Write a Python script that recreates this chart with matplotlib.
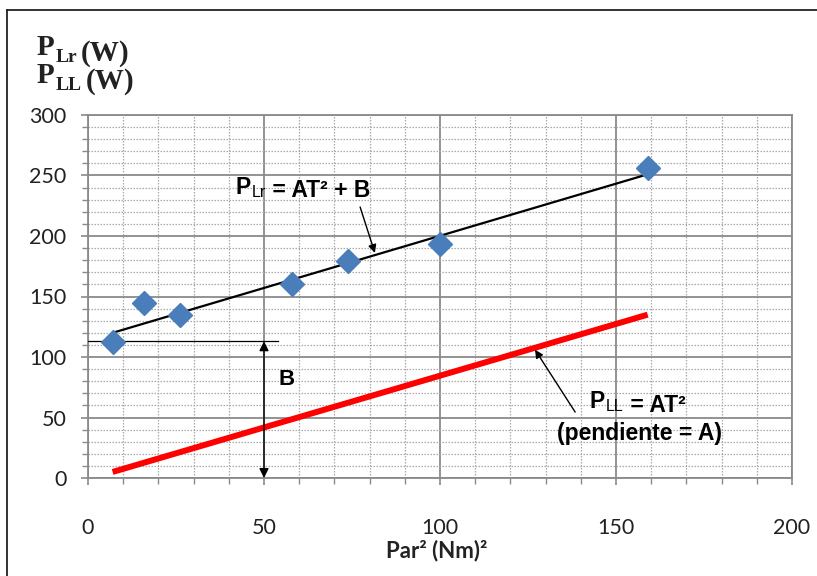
import matplotlib
matplotlib.use("Agg")
import matplotlib.pyplot as plt
from matplotlib.lines import Line2D
from matplotlib.ticker import MultipleLocator

# measured points: torque squared vs rotational losses
par2 = [7, 16, 26, 58, 74, 100, 159]
p_lr = [112, 145, 135, 160, 179, 193, 256]

# fitted line P_Lr = A*T^2 + B (end points)
fit_x = [7, 159]
fit_y = [120, 251]

# P_LL = A*T^2
pll_x = [7, 159]
pll_y = [5, 135]

b_value = 113
b_x = 50

x_ticks = [0, 50, 100, 150, 200]
y_ticks = [0, 50, 100, 150, 200, 250, 300]

grid_grey = "#8a8a8a"
tick_font = "Lato"
sans = "Liberation Sans"
serif = "Liberation Serif"

fig = plt.figure(figsize=(8.17, 5.76), dpi=100)
ax = fig.add_axes([88 / 817, 98 / 576, 704 / 817, 363 / 576])

ax.set_xlim(0, 200)
ax.set_ylim(0, 300)
ax.set_xticks(x_ticks)
ax.set_yticks(y_ticks)
ax.xaxis.set_minor_locator(MultipleLocator(10))
ax.yaxis.set_minor_locator(MultipleLocator(10))

ax.grid(which="major", color=grid_grey, lw=1.3)
ax.grid(which="minor", color="#a8a8a8", lw=0.9, ls=(0, (1.2, 1.2)))
ax.set_axisbelow(True)
for s in ax.spines.values():
    s.set_color(grid_grey)
    s.set_linewidth(1.3)

ax.tick_params(which="both", direction="out", color=grid_grey)
ax.tick_params(which="major", length=5, width=1.2)
ax.tick_params(which="minor", length=4, width=1.0)
ax.tick_params(axis="y", which="major", pad=10.5)
ax.tick_params(axis="x", which="major", pad=24)
for lab in ax.get_xticklabels() + ax.get_yticklabels():
    lab.set_fontfamily(tick_font)
    lab.set_fontsize(15.5)
    lab.set_color("#222222")

# data and lines
ax.plot(fit_x, fit_y, color="black", lw=1.6, zorder=3)
ax.plot(pll_x, pll_y, color="#ff0000", lw=4.3, solid_capstyle="butt", zorder=3)
ax.plot(par2, p_lr, ls="none", marker="D", ms=12.5, color="#4a7ebb",
        mec="#4a7ebb", zorder=4)

# B marker: horizontal guide and double arrow
ax.plot([0, 54], [b_value, b_value], color="black", lw=0.9, zorder=3)
ax.annotate("", xy=(b_x, 0), xytext=(b_x, b_value),
            arrowprops=dict(arrowstyle="<|-|>", color="black", lw=1.0,
                            mutation_scale=14, shrinkA=0, shrinkB=0), zorder=5)
ax.text(56.5, 81, "B", fontfamily=sans, fontweight="bold", fontsize=16,
        ha="center", va="center")


def sub_text(x, y, base, sub, rest, size, coords):
    t1 = ax.text(x, y, base, fontfamily=sans, fontweight="bold", fontsize=size,
                 ha="left", va="baseline", transform=coords)
    t2 = ax.annotate(sub, xy=(1, 0), xycoords=t1, xytext=(0.5, 1),
                     textcoords="offset points", fontfamily=sans,
                     fontsize=size * 0.7, ha="left", va="baseline")
    ax.annotate(rest, xy=(1, 0), xycoords=t2, xytext=(0, 2),
                textcoords="offset points", fontfamily=sans, fontweight="bold",
                fontsize=size, ha="left", va="baseline")


# P_Lr label with arrow to fitted line
sub_text(42, 235, "P", "Lr", " = AT\u00b2 + B", 16.5, ax.transData)
ax.annotate("", xy=(81.5, 186), xytext=(77.3, 224),
            arrowprops=dict(arrowstyle="-|>", color="black", lw=1.0,
                            mutation_scale=12, shrinkA=0, shrinkB=0))

# P_LL label with arrow to red line
sub_text(142.6, 58, "P", "LL", " = AT\u00b2", 16.5, ax.transData)
ax.text(156.8, 37, "(pendiente = A)", fontfamily=sans, fontweight="bold",
        fontsize=16.5, ha="center", va="center")
ax.annotate("", xy=(127, 106), xytext=(138.4, 54.5),
            arrowprops=dict(arrowstyle="-|>", color="black", lw=1.0,
                            mutation_scale=12, shrinkA=0, shrinkB=0))

# axis titles
ax.text(0.495, -0.2, "Par\u00b2 (Nm)\u00b2", transform=ax.transAxes,
        fontfamily=tick_font, fontweight="bold", fontsize=16,
        ha="center", va="center", color="#222222")

for ypix, sub in [(55, "Lr"), (83, "LL")]:
    t1 = fig.text(37 / 817, 1 - ypix / 576, "P", fontfamily=serif,
                  fontweight="bold", fontsize=21, va="baseline", color="#222222")
    s = ax.annotate(sub, xy=(1, 0), xycoords=t1, xytext=(0.5, -1),
                    textcoords="offset points", fontfamily=serif,
                    fontweight="bold", fontsize=14, va="baseline",
                    color="#222222", annotation_clip=False)
    ax.annotate("(W)", xy=(1, 0), xycoords=s, xytext=(3, 4),
                textcoords="offset points", fontfamily=serif,
                fontweight="bold", fontsize=21, va="baseline",
                color="#222222", annotation_clip=False)

# outer frame (left and top edges of the screenshot)
fig.add_artist(Line2D([6.5 / 817, 6.5 / 817], [0, 1 - 10 / 576],
                      transform=fig.transFigure, color="#222222", lw=1.3))
fig.add_artist(Line2D([6.5 / 817, 1], [1 - 10 / 576, 1 - 10 / 576],
                      transform=fig.transFigure, color="#222222", lw=1.3))

fig.savefig("out.png", dpi=100)
